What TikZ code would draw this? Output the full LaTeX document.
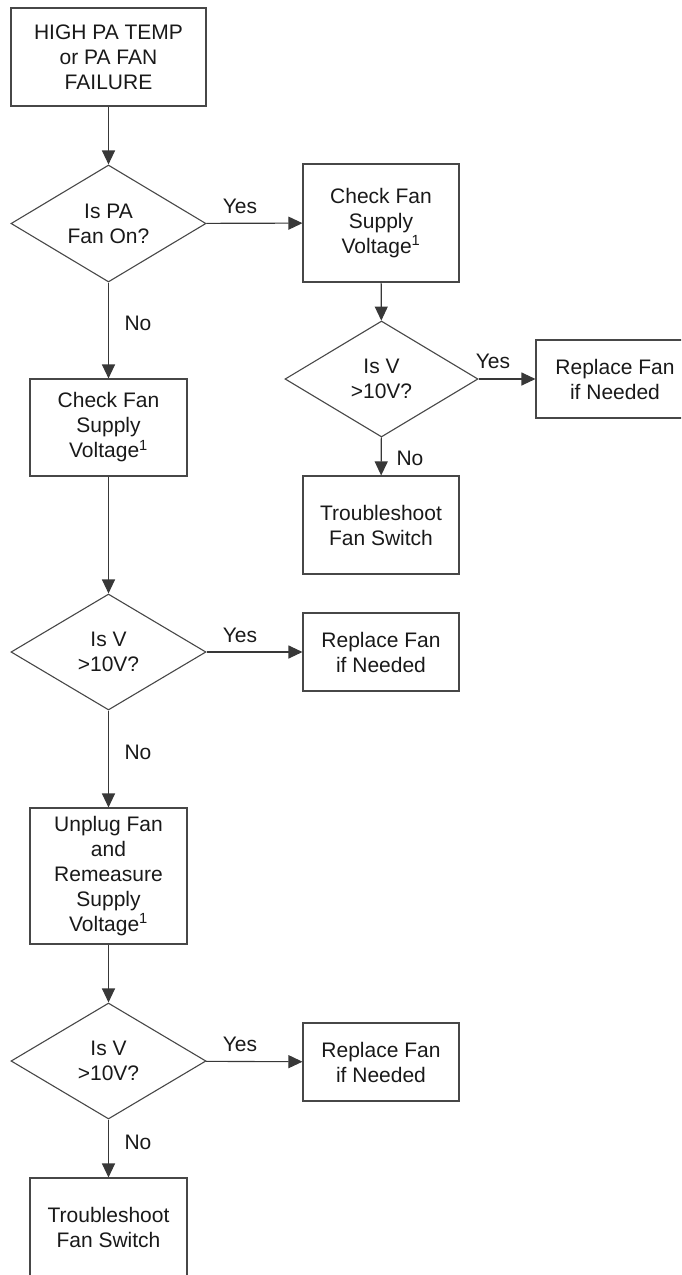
\documentclass[tikz,border=0pt]{standalone}
\usepackage{fontspec}
\setmainfont{Liberation Sans}
\usetikzlibrary{shapes.geometric,arrows.meta}
\begin{document}
\begin{tikzpicture}[x=1pt,y=-1pt,
  every node/.style={font={\fontsize{21}{25}\selectfont}, text=black!90},
  box/.style={draw=black!72, line width=1.1pt, rectangle, inner sep=0pt, align=center},
  dec/.style={draw=black!72, line width=1.1pt, diamond, shape aspect=1.67, inner sep=0pt, align=center, minimum width=195pt, minimum height=117pt},
  arr/.style={draw=black!78, line width=1.1pt, -{Triangle[length=14pt,width=13pt]}},
  lbl/.style={inner sep=0pt}]
\useasboundingbox (0,0) rectangle (681,1275);
\clip (0,0) rectangle (681,1275);

% left column
\node[box, minimum width=195pt, minimum height=98pt] (start) at (108.5,57) {HIGH PA TEMP\\or PA FAN\\FAILURE};
\node[dec] (d1) at (108.5,223.5) {Is PA\\Fan On?};
\node[box, minimum width=157pt, minimum height=97pt] (c3) at (108.5,427.5) {Check Fan\\Supply\\Voltage\textsuperscript{1}};
\node[dec, minimum height=116pt] (d4) at (108.5,652) {Is V\\>10V?};
\node[box, minimum width=157pt, minimum height=136pt] (c5) at (108.5,876) {Unplug Fan\\and\\Remeasure\\Supply\\Voltage\textsuperscript{1}};
\node[dec, minimum height=116pt] (d6) at (108.5,1061) {Is V\\>10V?};
\node[box, minimum width=157pt, minimum height=98pt] (t6) at (108.5,1227) {Troubleshoot\\Fan Switch};

% middle column
\node[box, minimum width=156pt, minimum height=118pt] (c2) at (381,223) {Check Fan\\Supply\\Voltage\textsuperscript{1}};
\node[dec, minimum width=193pt, minimum height=116pt] (d2) at (381.5,379) {Is V\\>10V?};
\node[box, minimum width=156pt, minimum height=98pt] (t2) at (381,525) {Troubleshoot\\Fan Switch};
\node[box, minimum width=156pt, minimum height=78pt] (r4) at (381,652) {Replace Fan\\if Needed};
\node[box, minimum width=156pt, minimum height=78pt] (r6) at (381,1062) {Replace Fan\\if Needed};

% right column
\node[box, minimum width=158pt, minimum height=78pt] (r2) at (615,379) {Replace Fan\\if Needed};

% connectors
\draw[arr] (start) -- (d1);
\draw[arr] (d1) -- (c2);
\draw[arr] (d1) -- (c3);
\draw[arr] (c2) -- (d2);
\draw[arr] (d2) -- (r2);
\draw[arr] (d2) -- (t2);
\draw[arr] (c3) -- (d4);
\draw[arr] (d4) -- (r4);
\draw[arr] (d4) -- (c5);
\draw[arr] (c5) -- (d6);
\draw[arr] (d6) -- (r6);
\draw[arr] (d6) -- (t6);

% labels
\node[lbl] (y1) at (240,206) {Yes};
\node[lbl] (n1) at (138,323) {No};
\node[lbl] (y2) at (493,361) {Yes};
\node[lbl] (n2) at (410,458) {No};
\node[lbl] (y4) at (240,635) {Yes};
\node[lbl] (n4) at (138,752) {No};
\node[lbl] (y6) at (240,1044) {Yes};
\node[lbl] (n6) at (138,1142) {No};
\end{tikzpicture}
\end{document}
